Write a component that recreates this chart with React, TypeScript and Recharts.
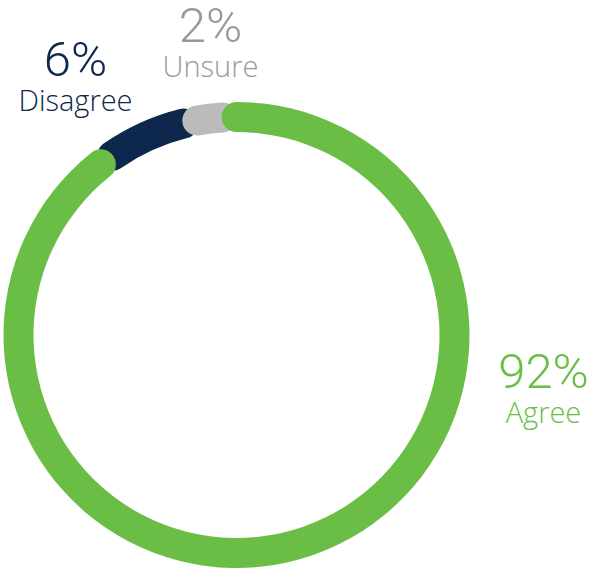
import { PieChart, Pie, Cell } from 'recharts';

const categories = ['Disagree', 'Unsure', 'Agree'];
const shares = [6, 2, 92];
const ringColors = ['#0d274d', '#bbbbbb', '#6abe45'];
const textColors = ['#0d274d', '#999999', '#6abe45'];

const data = categories.map((name, i) => ({ name, value: shares[i] }));

// label anchor offsets from the pie centre (percent baseline, name baseline below it)
const labelOffsets = [
  { dx: -161, dy: -259 },
  { dx: -26, dy: -293 },
  { dx: 307, dy: 53 },
];

const renderLabel = (props: any) => {
  const { cx, cy, index } = props;
  const off = labelOffsets[index];
  const x = cx + off.dx;
  const y = cy + off.dy;
  return (
    <g key={`lbl-${index}`}>
      <text
        x={x}
        y={y}
        textAnchor="middle"
        fill={textColors[index]}
        fontSize={49}
        fontWeight={300}
        fontFamily="Roboto, 'Noto Sans', sans-serif"
      >
        {`${shares[index]}%`}
      </text>
      <text
        x={x}
        y={y + 35}
        textAnchor="middle"
        fill={textColors[index]}
        fontSize={29}
        fontWeight={300}
        fontFamily="'Open Sans', Roboto, sans-serif"
      >
        {categories[index]}
      </text>
    </g>
  );
};

const App = () => {
  return (
    <div style={{ position: 'absolute', left: 0, top: 0, width: 592, height: 569, background: '#fff' }}>
      <PieChart width={592} height={569} margin={{ top: 0, right: 0, bottom: 0, left: 0 }}>
        <Pie
          data={data}
          dataKey="value"
          nameKey="name"
          cx={236.5}
          cy={335}
          innerRadius={203}
          outerRadius={233}
          startAngle={128.7}
          endAngle={-231.3}
          paddingAngle={-4.18}
          minAngle={7.58}
          cornerRadius={15}
          stroke="none"
          label={renderLabel}
          labelLine={false}
          isAnimationActive={false}
        >
          {data.map((d, i) => (
            <Cell key={d.name} fill={ringColors[i]} />
          ))}
        </Pie>
      </PieChart>
    </div>
  );
};

export default App;
